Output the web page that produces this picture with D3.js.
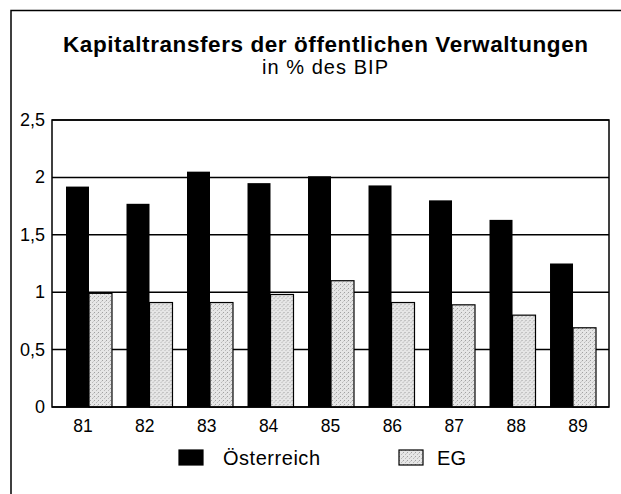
<!DOCTYPE html>
<html><head><meta charset="utf-8">
<script src="https://cdn.jsdelivr.net/npm/d3@7"></script>
<style>html,body{margin:0;padding:0;background:#fff}svg{display:block}</style>
</head><body>
<script>
const years = ["81","82","83","84","85","86","87","88","89"];
const oesterreich = [1.92,1.77,2.05,1.95,2.01,1.93,1.80,1.63,1.25];
const eg = [0.99,0.91,0.91,0.98,1.10,0.91,0.89,0.80,0.69];
const yTicks = [0,0.5,1,1.5,2,2.5];
const yTickLabels = ["0","0,5","1","1,5","2","2,5"];
const seriesNames = ["Österreich","EG"];

const W=621,H=494;
const svg=d3.select("body").append("svg").attr("width",W).attr("height",H);
const defs=svg.append("defs");
const pat=defs.append("pattern").attr("id","stip").attr("patternUnits","userSpaceOnUse").attr("width",4).attr("height",4);
pat.append("rect").attr("width",4).attr("height",4).attr("fill","#e6e6e6");
pat.append("rect").attr("x",0).attr("y",0).attr("width",1).attr("height",1).attr("fill","#a0a0a0");
pat.append("rect").attr("x",2).attr("y",2).attr("width",1).attr("height",1).attr("fill","#b8b8b8");
pat.append("rect").attr("x",3).attr("y",1).attr("width",1).attr("height",1).attr("fill","#cacaca");

// outer frame
svg.append("path").attr("d","M11,494V10.5H621").attr("fill","none").attr("stroke","#000").attr("stroke-width",1.5);

const font="'Liberation Sans', Arial, Helvetica, sans-serif";
svg.append("text").attr("x",325.5).attr("y",52).attr("text-anchor","middle")
  .attr("font-family",font).attr("font-weight","bold").attr("font-size",22.5)
  .attr("textLength",525).attr("lengthAdjust","spacing")
  .text("Kapitaltransfers der öffentlichen Verwaltungen");
svg.append("text").attr("x",325).attr("y",74).attr("text-anchor","middle")
  .attr("font-family",font).attr("font-size",20)
  .attr("textLength",126).attr("lengthAdjust","spacing").text("in % des BIP");

const pLeft=52,pRight=609,pTop=120,pBottom=407;
const y=d3.scaleLinear().domain([0,2.5]).range([pBottom,pTop]);
const xLab=d3.scaleBand().domain(years).range([pLeft,pRight]);
const xBar=d3.scaleBand().domain(years).range([66,596]).paddingInner(0.24);
const x1=d3.scaleBand().domain(seriesNames).range([0,xBar.bandwidth()]);

// gridlines
svg.append("g").selectAll("line").data(yTicks).join("line")
  .attr("x1",pLeft).attr("x2",pRight).attr("y1",d=>y(d)).attr("y2",d=>y(d))
  .attr("stroke","#000").attr("stroke-width",1.5);

const data=years.map((yr,i)=>({yr,vals:[oesterreich[i],eg[i]]}));
const g=svg.append("g").selectAll("g").data(data).join("g").attr("transform",d=>`translate(${xBar(d.yr)},0)`);
g.selectAll("rect").data(d=>d.vals.map((v,j)=>({s:seriesNames[j],v}))).join("rect")
  .attr("x",d=>x1(d.s)).attr("width",x1.bandwidth())
  .attr("y",d=>y(d.v)).attr("height",d=>y(0)-y(d.v))
  .attr("fill",d=>d.s==="EG"?"url(#stip)":"#000")
  .attr("stroke","#000").attr("stroke-width",d=>d.s==="EG"?1.2:0);

// plot frame
svg.append("rect").attr("x",pLeft).attr("y",pTop).attr("width",pRight-pLeft).attr("height",pBottom-pTop)
  .attr("fill","none").attr("stroke","#000").attr("stroke-width",1.5);

// y labels
svg.append("g").selectAll("text").data(yTicks).join("text")
  .attr("x",45).attr("y",d=>y(d)+6).attr("text-anchor","end")
  .attr("font-family",font).attr("font-size",18).text((d,i)=>yTickLabels[i]);
// x labels
svg.append("g").selectAll("text").data(years).join("text")
  .attr("x",d=>xLab(d)+xLab.bandwidth()/2).attr("y",432).attr("text-anchor","middle")
  .attr("font-family",font).attr("font-size",17.5).text(d=>d);

// legend
const leg=[{s:"Österreich",x:179,tx:44,len:97},{s:"EG",x:399,tx:38,len:29}];
const lg=svg.append("g").selectAll("g").data(leg).join("g").attr("transform",d=>`translate(${d.x},0)`);
lg.append("rect").attr("x",0).attr("y",450).attr("width",24).attr("height",15)
  .attr("fill",d=>d.s==="EG"?"url(#stip)":"#000").attr("stroke","#000").attr("stroke-width",1.2);
lg.append("text").attr("x",d=>d.tx).attr("y",465)
  .attr("font-family",font).attr("font-size",20)
  .attr("textLength",d=>d.len).attr("lengthAdjust","spacing").text(d=>d.s);
</script>
</body></html>
